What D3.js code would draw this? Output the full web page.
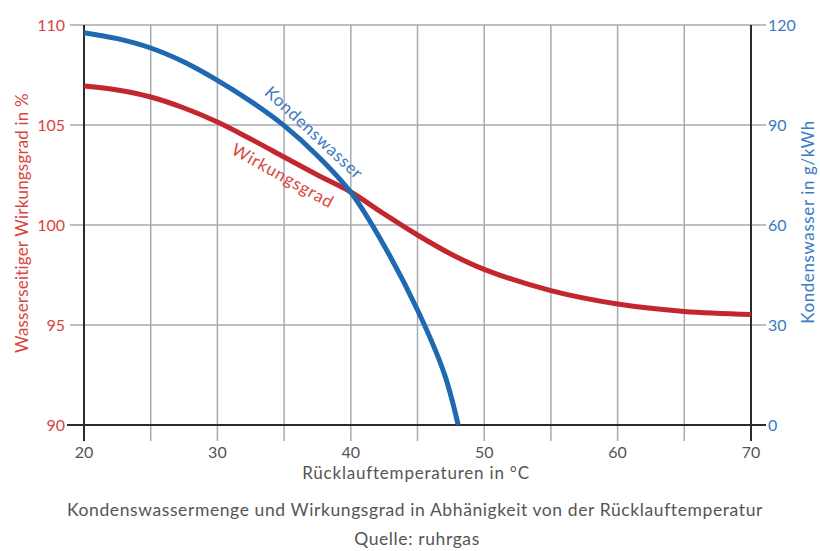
<!DOCTYPE html>
<html>
<head>
<meta charset="utf-8">
<script src="https://cdn.jsdelivr.net/npm/d3@7"></script>
<style>
  body { margin: 0; background: #fff; }
  text { font-family: "Lato", "DejaVu Sans", sans-serif; }
</style>
</head>
<body>
<script>
// Data
var tempTicks = [20, 30, 40, 50, 60, 70];
var gridTemps = [20, 25, 30, 35, 40, 45, 50, 55, 60, 65, 70];
var effTicks = [90, 95, 100, 105, 110];
var waterTicks = [0, 30, 60, 90, 120];

var effTemp  = [20, 22.5, 25, 27.5, 30, 32.5, 35, 37.5, 40, 42.5, 45, 47.5, 50, 55, 60, 65, 70];
var effValue = [106.95, 106.75, 106.4, 105.85, 105.15, 104.3, 103.4, 102.5, 101.65, 100.55, 99.5, 98.55, 97.78, 96.72, 96.05, 95.68, 95.53];

var waterTemp  = [20, 22.5, 25, 27.5, 30, 32.5, 35, 37.5, 40, 42.5, 45, 47, 48.05];
var waterValue = [117.7, 115.9, 113.1, 108.9, 103.4, 97.1, 89.8, 80.8, 69.8, 53.8, 34.5, 15.5, 0];

var red = "#c1272d", blue = "#1f69b1";
var redText = "#d9463d", blueText = "#3b7bc0", grey = "#a7aaae", dark = "#2b2b2b", textGrey = "#555";

var W = 820, H = 551;
var margin = {top: 25, right: 69, bottom: 126, left: 84};

var svg = d3.select("body").append("svg")
    .attr("width", W)
    .attr("height", H);

var x = d3.scaleLinear().domain([20, 70]).range([margin.left, W - margin.right]);
var yL = d3.scaleLinear().domain([90, 110]).range([H - margin.bottom, margin.top]);
var yR = d3.scaleLinear().domain([0, 120]).range([H - margin.bottom, margin.top]);

// vertical grid lines (with little tick below)
svg.append("g").selectAll("line")
    .data(gridTemps.filter(function(d) { return d != 20 && d != 70; }))
  .enter().append("line")
    .attr("x1", function(d) { return x(d); })
    .attr("x2", function(d) { return x(d); })
    .attr("y1", yL(110))
    .attr("y2", yL(90) + 16)
    .attr("stroke", grey)
    .attr("stroke-width", 1.5);

// horizontal grid lines
svg.append("g").selectAll("line")
    .data(effTicks.filter(function(d) { return d != 90; }))
  .enter().append("line")
    .attr("x1", x(20) - 14)
    .attr("x2", x(70) + 15)
    .attr("y1", function(d) { return yL(d); })
    .attr("y2", function(d) { return yL(d); })
    .attr("stroke", grey)
    .attr("stroke-width", 1.5);

// axes lines
svg.append("line")
    .attr("x1", x(20) - 17).attr("x2", x(70) + 15)
    .attr("y1", yL(90)).attr("y2", yL(90))
    .attr("stroke", dark).attr("stroke-width", 2);
svg.append("line")
    .attr("x1", x(20)).attr("x2", x(20))
    .attr("y1", yL(110)).attr("y2", yL(90) + 16)
    .attr("stroke", dark).attr("stroke-width", 2);
svg.append("line")
    .attr("x1", x(70)).attr("x2", x(70))
    .attr("y1", yL(110)).attr("y2", yL(90) + 16)
    .attr("stroke", dark).attr("stroke-width", 2);

// tick labels
svg.append("g").selectAll("text")
    .data(effTicks)
  .enter().append("text")
    .attr("x", x(20) - 19)
    .attr("y", function(d) { return yL(d); })
    .attr("dy", "0.35em")
    .attr("text-anchor", "end")
    .attr("fill", redText)
    .style("font-size", "16px")
    .text(function(d) { return d; });

svg.append("g").selectAll("text")
    .data(waterTicks)
  .enter().append("text")
    .attr("x", x(70) + 17)
    .attr("y", function(d) { return yR(d); })
    .attr("dy", "0.35em")
    .attr("text-anchor", "start")
    .attr("fill", blueText)
    .style("font-size", "16px")
    .text(function(d) { return d; });

svg.append("g").selectAll("text")
    .data(tempTicks)
  .enter().append("text")
    .attr("x", function(d) { return x(d); })
    .attr("y", yL(90) + 33)
    .attr("text-anchor", "middle")
    .attr("fill", textGrey)
    .style("font-size", "16px")
    .text(function(d) { return d; });

// axis titles
svg.append("text")
    .attr("transform", "translate(28,223) rotate(-90)")
    .attr("text-anchor", "middle")
    .attr("fill", redText)
    .style("font-size", "17px")
    .style("letter-spacing", "0.2px")
    .text("Wasserseitiger Wirkungsgrad in %");

svg.append("text")
    .attr("transform", "translate(814,222) rotate(-90)")
    .attr("text-anchor", "middle")
    .attr("fill", blueText)
    .style("font-size", "17px")
    .style("letter-spacing", "0.6px")
    .text("Kondenswasser in g/kWh");

svg.append("text")
    .attr("x", 416)
    .attr("y", 479)
    .attr("text-anchor", "middle")
    .attr("fill", textGrey)
    .style("font-size", "17px")
    .style("letter-spacing", "0.8px")
    .text("Rücklauftemperaturen in °C");

svg.append("text")
    .attr("x", 415)
    .attr("y", 516)
    .attr("text-anchor", "middle")
    .attr("fill", textGrey)
    .style("font-size", "17.5px")
    .style("letter-spacing", "0.6px")
    .text("Kondenswassermenge und Wirkungsgrad in Abhänigkeit von der Rücklauftemperatur");

svg.append("text")
    .attr("x", 417)
    .attr("y", 545)
    .attr("text-anchor", "middle")
    .attr("fill", textGrey)
    .style("font-size", "17.5px")
    .style("letter-spacing", "0.6px")
    .text("Quelle: ruhrgas");

// curves
var effLine = d3.line()
    .x(function(d) { return x(d[0]); })
    .y(function(d) { return yL(d[1]); })
    .curve(d3.curveCatmullRom);

var waterLine = d3.line()
    .x(function(d) { return x(d[0]); })
    .y(function(d) { return yR(d[1]); })
    .curve(d3.curveCatmullRom);

svg.append("path")
    .datum(d3.zip(effTemp, effValue))
    .attr("d", effLine)
    .attr("fill", "none")
    .attr("stroke", red)
    .attr("stroke-width", 5);

svg.append("path")
    .datum(d3.zip(waterTemp, waterValue))
    .attr("d", waterLine)
    .attr("fill", "none")
    .attr("stroke", blue)
    .attr("stroke-width", 5);

// curve labels
svg.append("text")
    .attr("transform", "translate(310,137) rotate(43)")
    .attr("text-anchor", "middle")
    .attr("fill", blueText)
    .style("font-size", "17px")
    .style("letter-spacing", "0.8px")
    .text("Kondenswasser");

svg.append("text")
    .attr("transform", "translate(280,181) rotate(29)")
    .attr("text-anchor", "middle")
    .attr("fill", redText)
    .style("font-size", "17px")
    .style("letter-spacing", "0.8px")
    .text("Wirkungsgrad");
</script>
</body>
</html>
